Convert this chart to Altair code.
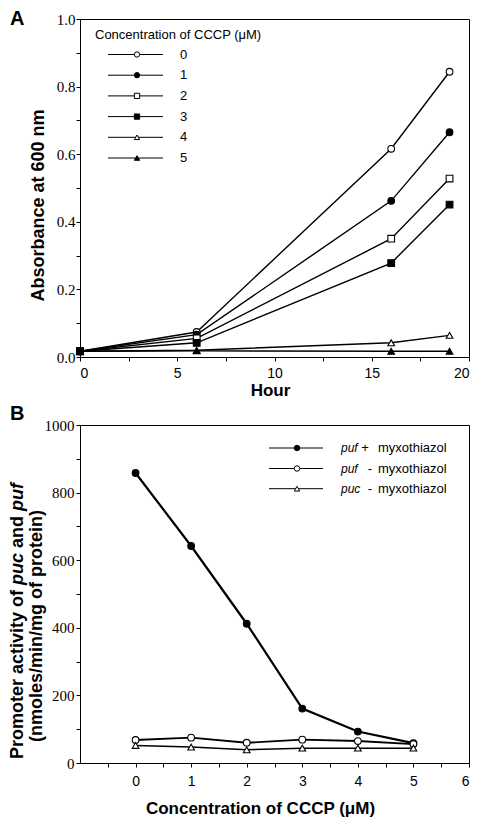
import altair as alt
import pandas as pd

# ---------------- data ----------------
hours = [0, 6, 16, 19]
cccp_levels = ["0", "1", "2", "3", "4", "5"]
abs_0 = [0.017, 0.074, 0.616, 0.844]
abs_1 = [0.017, 0.066, 0.462, 0.665]
abs_2 = [0.017, 0.055, 0.350, 0.528]
abs_3 = [0.017, 0.042, 0.278, 0.451]
abs_4 = [0.017, 0.020, 0.042, 0.064]
abs_5 = [0.017, 0.018, 0.017, 0.017]

cccp_conc = [0, 1, 2, 3, 4, 5]
series_b = ["puf+", "puf-", "puc-"]
puf_plus = [858, 642, 412, 161, 93, 59]
puf_minus = [68, 75, 60, 69, 65, 56]
puc_minus = [52, 47, 39, 44, 44, 44]

legend_b_names = ["puf", "puf", "puc"]
legend_b_signs = ["+", "-", "-"]

# ---------------- layout constants ----------------
SANS = "Liberation Sans"
SERIF = "Liberation Serif"
W, H = 389, 338
GAP = 68


def xa(px):
    return px / W * 20.0


def ya(py):
    return 1.0 - py / H


def xb(px):
    return -1.0 + px / W * 7.0


def yb(py):
    return 1000.0 * (1.0 - py / H)


# ---------------- panel A ----------------
rowsA = []
for lvl, vals in zip(cccp_levels, [abs_0, abs_1, abs_2, abs_3, abs_4, abs_5]):
    for h, v in zip(hours, vals):
        rowsA.append({"hour": h, "absorbance": v, "series": lvl})
dfA = pd.DataFrame(rowsA)

shapeA = alt.Scale(domain=cccp_levels,
                   range=["circle", "circle", "square", "square", "triangle-up", "triangle-up"])
fillA = alt.Scale(domain=cccp_levels,
                  range=["white", "black", "white", "black", "white", "black"])


def XA(field):
    return alt.X(field, scale=alt.Scale(domain=[0, 20], nice=False, zero=False),
                 axis=alt.Axis(values=[0, 2.5, 5, 7.5, 10, 12.5, 15, 17.5, 20],
                               labelExpr="datum.value % 5 == 0 ? format(datum.value, 'd') : ''",
                               labelFont=SANS, labelFontSize=14, labelPadding=5,
                               labelFlush=True, labelOverlap=False,
                               title="Hour", titleFont=SANS, titleFontSize=17,
                               titleFontWeight="bold", titleX=190, titleY=33,
                               titleBaseline="middle"))


def YA(field):
    return alt.Y(field, scale=alt.Scale(domain=[0, 1], nice=False),
                 axis=alt.Axis(values=[round(i * 0.1, 1) for i in range(11)],
                               labelExpr="round(datum.value*10) % 2 == 0 ? format(datum.value, '.1f') : ''",
                               labelFont=SERIF, labelFontSize=15, labelPadding=1,
                               labelFlush=False, labelOverlap=False,
                               title="Absorbance at 600 nm", titleFont=SANS, titleFontSize=18,
                               titleFontWeight="bold", titleX=-42, titleY=186,
                               titleBaseline="middle"))


linesA = alt.Chart(dfA).mark_line(color="black", strokeWidth=1.4).encode(
    x=XA("hour:Q"), y=YA("absorbance:Q"), detail="series:N")
pointsA = alt.Chart(dfA).mark_point(filled=True, stroke="black", strokeWidth=1.1,
                                    opacity=1, size=45).encode(
    x=XA("hour:Q"), y=YA("absorbance:Q"),
    shape=alt.Shape("series:N", scale=shapeA, legend=None),
    fill=alt.Fill("series:N", scale=fillA, legend=None))

legA = pd.DataFrame({
    "series": cccp_levels,
    "ly": [ya(35.5 + i * 20.7) for i in range(len(cccp_levels))],
    "x1": xa(28), "x2": xa(83), "xm": xa(57), "xt": xa(100),
})
legRuleA = alt.Chart(legA).mark_rule(color="black", strokeWidth=1).encode(
    x=XA("x1:Q"), x2="x2:Q", y=YA("ly:Q"))
legPtsA = alt.Chart(legA).mark_point(filled=True, stroke="black", strokeWidth=1,
                                     opacity=1, size=28).encode(
    x=XA("xm:Q"), y=YA("ly:Q"),
    shape=alt.Shape("series:N", scale=shapeA, legend=None),
    fill=alt.Fill("series:N", scale=fillA, legend=None))
legTextA = alt.Chart(legA).mark_text(align="left", baseline="middle", font=SANS,
                                     fontSize=13, color="black").encode(
    x=XA("xt:Q"), y=YA("ly:Q"), text="series:N")
legTitleA = alt.Chart(pd.DataFrame({"t": ["Concentration of CCCP (\u03bcM)"]})).mark_text(
    align="left", baseline="middle", font=SANS, fontSize=13, color="black").encode(
    x=alt.value(15), y=alt.value(16), text="t:N")
labelA = alt.Chart(pd.DataFrame({"t": ["A"]})).mark_text(
    align="left", baseline="alphabetic", font=SANS, fontSize=20, fontWeight="bold",
    color="black").encode(x=alt.value(-70), y=alt.value(6), text="t:N")

panelA = alt.layer(linesA, pointsA, legRuleA, legPtsA, legTextA, legTitleA, labelA).properties(
    width=W, height=H)

# ---------------- panel B ----------------
rowsB = []
for s, vals in zip(series_b, [puf_plus, puf_minus, puc_minus]):
    for c, v in zip(cccp_conc, vals):
        rowsB.append({"conc": c, "activity": v, "series": s})
dfB = pd.DataFrame(rowsB)

shapeB = alt.Scale(domain=series_b, range=["circle", "circle", "triangle-up"])
fillB = alt.Scale(domain=series_b, range=["black", "white", "white"])
widthB = alt.Scale(domain=series_b, range=[2.2, 1.5, 1.5])


def XB(field):
    return alt.X(field, scale=alt.Scale(domain=[-1, 6], nice=False, zero=False),
                 axis=alt.Axis(values=[-0.5 + 0.5 * i for i in range(14)],
                               labelExpr="datum.value >= 0 && datum.value % 1 == 0 ? format(datum.value, 'd') : ''",
                               labelFont=SANS, labelFontSize=14, labelPadding=7,
                               labelFlush=True, labelOverlap=False,
                               title="Concentration of CCCP (\u03bcM)", titleFont=SANS,
                               titleFontSize=17, titleFontWeight="bold", titleX=180, titleY=45,
                               titleBaseline="middle"))


def YB(field):
    return alt.Y(field, scale=alt.Scale(domain=[0, 1000], nice=False),
                 axis=alt.Axis(values=[100 * i for i in range(11)],
                               labelExpr="datum.value % 200 == 0 ? format(datum.value, 'd') : ''",
                               labelFont=SERIF, labelFontSize=15, labelPadding=2,
                               labelFlush=False, labelOverlap=False, title=None))


linesB = alt.Chart(dfB).mark_line(color="black").encode(
    x=XB("conc:Q"), y=YB("activity:Q"), detail="series:N",
    strokeWidth=alt.StrokeWidth("series:N", scale=widthB, legend=None))
pointsB = alt.Chart(dfB).mark_point(filled=True, stroke="black", strokeWidth=1.1,
                                    opacity=1, size=45).encode(
    x=XB("conc:Q"), y=YB("activity:Q"),
    shape=alt.Shape("series:N", scale=shapeB, legend=None),
    fill=alt.Fill("series:N", scale=fillB, legend=None))

legB = pd.DataFrame({
    "series": series_b,
    "name": legend_b_names,
    "sign": legend_b_signs,
    "ly": [yb(23), yb(43.5), yb(63.7)],
    "x1": xb(189), "x2": xb(243), "xm": xb(217), "xn": xb(261),
    "xs": [xb(285), xb(290), xb(290)], "xw": xb(298),
})
legRuleB = alt.Chart(legB).mark_rule(color="black", strokeWidth=1).encode(
    x=XB("x1:Q"), x2="x2:Q", y=YB("ly:Q"))
legPtsB = alt.Chart(legB).mark_point(filled=True, stroke="black", strokeWidth=1,
                                     opacity=1, size=30).encode(
    x=XB("xm:Q"), y=YB("ly:Q"),
    shape=alt.Shape("series:N", scale=shapeB, legend=None),
    fill=alt.Fill("series:N", scale=fillB, legend=None))
legNameB = alt.Chart(legB).mark_text(align="left", baseline="middle", font=SANS,
                                     fontSize=12, fontStyle="italic", color="black").encode(
    x=XB("xn:Q"), y=YB("ly:Q"), text="name:N")
legSignB = alt.Chart(legB).mark_text(align="center", baseline="middle", font=SANS,
                                     fontSize=13, color="black").encode(
    x=XB("xs:Q"), y=YB("ly:Q"), text="sign:N")
legWordB = alt.Chart(legB).mark_text(align="left", baseline="middle", font=SANS,
                                     fontSize=13, color="black").encode(
    x=XB("xw:Q"), y=YB("ly:Q"), text=alt.value("myxothiazol"))

# rotated y-axis title with italic gene names
title_pieces = [("Promoter activity of", "normal", 334),
                ("puc", "italic", 160),
                ("and", "normal", 123),
                ("puf", "italic", 86)]
ytitle_layers = []
for txt, style, ypos in title_pieces:
    ytitle_layers.append(
        alt.Chart(pd.DataFrame({"t": [txt]})).mark_text(
            align="left", baseline="middle", angle=270, font=SANS, fontSize=18,
            fontWeight="bold", fontStyle=style, color="black").encode(
            x=alt.value(-62), y=alt.value(ypos), text="t:N"))
ytitle_layers.append(
    alt.Chart(pd.DataFrame({"t": ["(nmoles/min/mg of protein)"]})).mark_text(
        align="center", baseline="middle", angle=270, font=SANS, fontSize=18,
        fontWeight="bold", color="black").encode(
        x=alt.value(-43), y=alt.value(201), text="t:N"))

labelB = alt.Chart(pd.DataFrame({"t": ["B"]})).mark_text(
    align="left", baseline="alphabetic", font=SANS, fontSize=20, fontWeight="bold",
    color="black").encode(x=alt.value(-70), y=alt.value(-5), text="t:N")

panelB = alt.layer(linesB, pointsB, legRuleB, legPtsB, legNameB, legSignB, legWordB,
                   *ytitle_layers, labelB).properties(width=W, height=H)

chart = alt.vconcat(panelA, panelB, spacing=GAP, bounds="flush").resolve_scale(
    shape="independent", fill="independent", strokeWidth="independent"
).properties(
    padding={"left": 0, "top": 0, "right": 0, "bottom": 0}
).configure_view(stroke="black", strokeWidth=1).configure_axis(
    domainColor="black", tickColor="black", labelColor="black", titleColor="black",
    grid=False, tickSize=4, domainWidth=1, tickWidth=1)

chart.save("out.html", embed_options={"renderer": "svg", "actions": False})
